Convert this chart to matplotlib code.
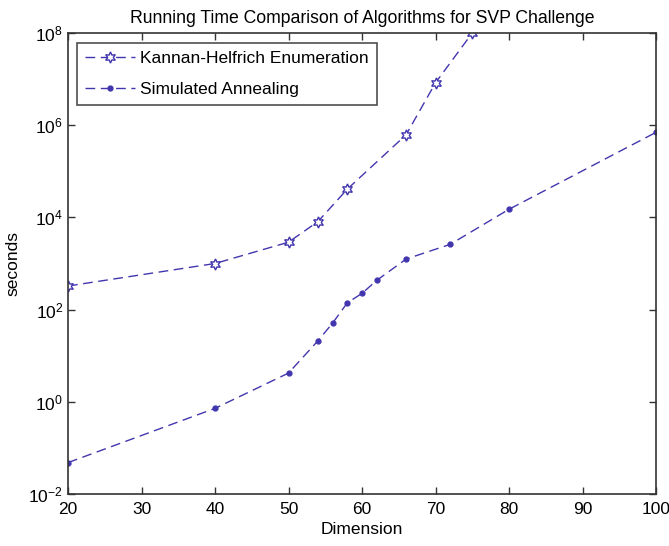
import matplotlib
matplotlib.use("Agg")
import matplotlib.pyplot as plt
from matplotlib.ticker import FixedLocator, FixedFormatter

plt.rcParams['font.family'] = ['Liberation Sans', 'DejaVu Sans']
plt.rcParams['mathtext.fontset'] = 'custom'
plt.rcParams['mathtext.rm'] = 'Liberation Sans'
plt.rcParams['mathtext.it'] = 'Liberation Sans'

# Data
kh_dim = [20, 40, 50, 54, 58, 66, 70, 75]
kh_sec = [325, 1000, 2900, 8100, 41000, 620000, 8.3e6, 1.0e8]
sa_dim = [20, 40, 50, 54, 56, 58, 60, 62, 66, 72, 80, 100]
sa_sec = [0.048, 0.72, 4.2, 21, 51, 140, 225, 430, 1250, 2600, 15000, 7.0e5]

x_ticks = [20, 30, 40, 50, 60, 70, 80, 90, 100]
y_ticks = [1e-2, 1e0, 1e2, 1e4, 1e6, 1e8]
y_labels = ['$10^{-2}$', '$10^{0}$', '$10^{2}$', '$10^{4}$', '$10^{6}$', '$10^{8}$']

color = '#4236ae'

fig = plt.figure(figsize=(6.69, 5.46), dpi=100)
ax = fig.add_axes([68/669, 1 - 494/546, (656 - 68)/669, (494 - 33)/546])

ax.plot(kh_dim, kh_sec, linestyle=(0, (7, 4)), color=color, lw=1.0,
        marker=(6, 1, 0), markersize=8, markerfacecolor='white',
        markeredgecolor=color, markeredgewidth=1.0,
        label='Kannan-Helfrich Enumeration')
ax.plot(sa_dim, sa_sec, linestyle=(0, (7, 4)), color=color, lw=1.0,
        marker='o', markersize=3.5, markerfacecolor=color,
        markeredgecolor=color, label='Simulated Annealing')

ax.set_yscale('log')
ax.set_xlim(20, 100)
ax.set_ylim(1e-2, 1e8)
ax.xaxis.set_major_locator(FixedLocator(x_ticks))
ax.yaxis.set_major_locator(FixedLocator(y_ticks))
ax.yaxis.set_major_formatter(FixedFormatter(y_labels))
ax.yaxis.set_minor_locator(FixedLocator([]))
ax.tick_params(axis='both', which='major', direction='in', length=5,
               width=1, labelsize=12.5, top=True, right=True, color='#333333')
ax.tick_params(axis='x', pad=6)
for s in ax.spines.values():
    s.set_linewidth(1.2)
    s.set_color('#333333')

ax.set_title('Running Time Comparison of Algorithms for SVP Challenge', fontsize=12.7, pad=7)
ax.set_xlabel('Dimension', fontsize=12.5, labelpad=3)
ax.set_ylabel('seconds', fontsize=12.5, labelpad=6)

leg = ax.legend(loc='upper left', bbox_to_anchor=(0.015, 0.978), fontsize=12.5,
                frameon=True, fancybox=False, edgecolor='#222222',
                handlelength=2.9, borderpad=0.45, labelspacing=0.9,
                handletextpad=0.3, borderaxespad=0)
leg.get_frame().set_linewidth(1.2)

fig.savefig('out.png', dpi=100)
